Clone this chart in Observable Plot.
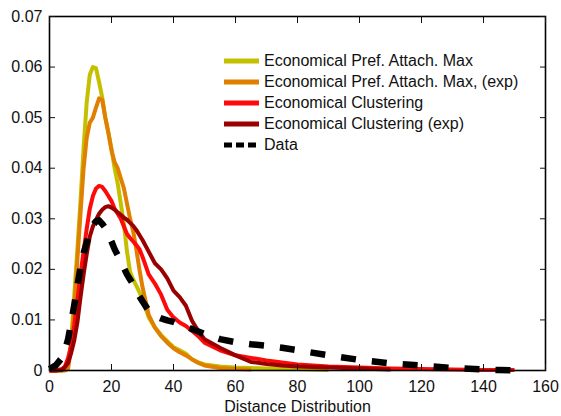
<!DOCTYPE html>
<html>
<head>
<meta charset="utf-8">
<script src="https://cdn.jsdelivr.net/npm/d3@7"></script>
<script src="https://cdn.jsdelivr.net/npm/@observablehq/plot@0.6"></script>
<style>
  html, body { margin: 0; padding: 0; background: #fff; }
  #wrap { position: relative; width: 561px; height: 416px; font-family: "Liberation Sans", Arial, Helvetica, sans-serif; }
  #legend { position: absolute; left: 224px; top: 50px; font-size: 16px; color: #111; }
  #legend .row { display: flex; align-items: center; height: 21px; }
  #legend svg { margin-right: 4px; }
</style>
</head>
<body>
<div id="wrap"></div>
<script>
// Distance (x grid shared by all series)
const distance = [0, 2, 4, 5, 6, 7, 8, 9, 10, 11, 12, 13, 14, 15, 16, 17, 18, 19, 20,
  21, 22, 23, 24, 25, 26, 27, 28, 29, 30, 32, 34, 36, 38, 40, 42, 44, 46, 48, 50,
  55, 60, 65, 70, 75, 80, 90, 100, 110, 120, 130, 140, 145, 150];

// Model and observed distributions (null = series not drawn there)
const prefAttachMax = [0, 0, 0, 0.0002, 0.001, 0.006, 0.015, 0.024, 0.0335, 0.044, 0.053, 0.0585, 0.060, 0.0598, 0.057, 0.054, 0.050, 0.047, 0.0438,
  0.040, 0.037, 0.033, 0.029, 0.0235, 0.0195, 0.018, 0.0168, 0.0155, 0.014, 0.0105, 0.0085, 0.007, 0.0058, 0.0046, 0.004, 0.0033, 0.0022, 0.0016, 0.0012,
  0.0008, 0.0006, 0.0005, 0.0004, 0.0003, 0.0003, 0.0001, null, null, null, null, null, null, null];

const prefAttachMaxExp = [0, 0, 0, 0, 0.0003, 0.005, 0.012, 0.022, 0.031, 0.040, 0.046, 0.049, 0.050, 0.052, 0.0538, 0.0535, 0.050, 0.047, 0.0435,
  0.0412, 0.040, 0.038, 0.036, 0.033, 0.030, 0.0275, 0.024, 0.020, 0.0165, 0.011, 0.0085, 0.0068, 0.0055, 0.0044, 0.0036, 0.003, 0.0022, 0.0015, 0.001,
  0.0005, 0.0003, 0.0002, null, null, null, null, null, null, null, null, null, null, null];

const clustering = [0, 0, 0.0003, 0.0008, 0.0025, 0.005, 0.009, 0.014, 0.019, 0.0236, 0.028, 0.032, 0.0345, 0.036, 0.0365, 0.0363, 0.0355, 0.0345, 0.0335,
  0.032, 0.031, 0.030, 0.0285, 0.027, 0.0262, 0.0255, 0.0248, 0.024, 0.0225, 0.019, 0.0172, 0.015, 0.012, 0.0105, 0.0095, 0.0088, 0.0078, 0.0068, 0.0055,
  0.004, 0.003, 0.0025, 0.002, 0.0016, 0.0012, 0.0008, 0.0006, 0.0004, 0.0003, 0.0002, 0.0001, 0.0001, 0.0001];

const clusteringExp = [0, 0, 0.0001, 0.0007, 0.0015, 0.0035, 0.006, 0.0095, 0.0145, 0.019, 0.023, 0.0265, 0.0285, 0.0298, 0.031, 0.0318, 0.0323, 0.0325, 0.0322,
  0.0318, 0.0313, 0.0308, 0.0302, 0.0298, 0.0292, 0.0286, 0.0278, 0.0268, 0.0258, 0.0235, 0.0212, 0.020, 0.0182, 0.0158, 0.0145, 0.0128, 0.0098, 0.0078, 0.0062,
  0.0045, 0.003, 0.0017, 0.0013, 0.001, 0.0008, 0.0006, 0.0004, 0.0002, null, null, null, null, null];

const observed = [0.0003, 0.001, 0.0025, 0.004, 0.0062, 0.0095, 0.013, 0.0168, 0.0203, 0.0232, 0.0253, 0.0272, 0.0287, 0.0295, 0.0297, 0.029, 0.0282, 0.0268, 0.0255,
  0.024, 0.0228, 0.0215, 0.0203, 0.019, 0.018, 0.017, 0.0158, 0.0147, 0.0137, 0.0118, 0.0108, 0.0103, 0.0099, 0.0096, 0.0091, 0.0087, 0.0082, 0.0077, 0.0072,
  0.0062, 0.0056, 0.0052, 0.0049, 0.0045, 0.004, 0.003, 0.0021, 0.0014, 0.001, 0.0005, 0.0002, 0.0001, 0];

// Axis ticks
const xTicks = [0, 20, 40, 60, 80, 100, 120, 140, 160];
const yTicks = [0, 0.01, 0.02, 0.03, 0.04, 0.05, 0.06, 0.07];

const series = [
  {name: "Economical Pref. Attach. Max", values: prefAttachMax, color: "#c4c000", width: 4, dash: null},
  {name: "Economical Pref. Attach. Max, (exp)", values: prefAttachMaxExp, color: "#e07f00", width: 4, dash: null},
  {name: "Economical Clustering", values: clustering, color: "#ff0a0a", width: 4, dash: null},
  {name: "Economical Clustering (exp)", values: clusteringExp, color: "#9a0000", width: 4, dash: null},
  {name: "Data", values: observed, color: "#000000", width: 6.5, dash: "15,16"}
];

const rows = s => distance.map((d, i) => ({x: d, y: s.values[i]})).filter(r => r.y != null);

const yFmt = d => d === 0 ? "0" : d.toFixed(2);

const chart = Plot.plot({
  width: 561,
  height: 416,
  marginLeft: 49,
  marginRight: 16,
  marginTop: 16,
  marginBottom: 46,
  style: {fontFamily: "'Liberation Sans', Arial, Helvetica, sans-serif", fontSize: "16px", color: "#111", background: "#fff"},
  x: {domain: [0, 160]},
  y: {domain: [0, 0.07]},
  marks: [
    ...series.map(s => Plot.line(rows(s), {
      x: "x", y: "y", stroke: s.color, strokeWidth: s.width,
      strokeDasharray: s.dash, strokeLinecap: "butt", strokeLinejoin: "round"
    })),
    Plot.frame({stroke: "#000", strokeWidth: 1.6}),
    // labels
    Plot.axisX(xTicks, {anchor: "bottom", tickSize: 0, tickPadding: 10, fontSize: 16, label: null}),
    Plot.axisY(yTicks, {anchor: "left", tickSize: 0, tickPadding: 7, tickFormat: yFmt, fontSize: 16, label: null}),
    // inward ticks on all four sides
    Plot.axisX(xTicks, {anchor: "bottom", tickSize: -6, text: null, label: null}),
    Plot.axisX(xTicks, {anchor: "top", tickSize: -6, text: null, label: null}),
    Plot.axisY(yTicks, {anchor: "left", tickSize: -6, text: null, label: null}),
    Plot.axisY(yTicks, {anchor: "right", tickSize: -6, text: null, label: null}),
    Plot.text(["Distance Distribution"], {frameAnchor: "bottom", dy: 41, fontSize: 16, fill: "#111"})
  ]
});

const wrap = document.getElementById("wrap");
wrap.appendChild(chart);

// Legend drawn over the plot area
const legend = document.createElement("div");
legend.id = "legend";
for (const s of series) {
  const row = document.createElement("div");
  row.className = "row";
  const sw = d3.create("svg").attr("width", 36).attr("height", 8);
  sw.append("line").attr("x1", 0).attr("x2", 35).attr("y1", 4).attr("y2", 4)
    .attr("stroke", s.color).attr("stroke-width", 5)
    .attr("stroke-dasharray", s.dash ? "8,4" : null);
  row.appendChild(sw.node());
  const label = document.createElement("span");
  label.textContent = s.name;
  row.appendChild(label);
  legend.appendChild(row);
}
wrap.appendChild(legend);
</script>
</body>
</html>
